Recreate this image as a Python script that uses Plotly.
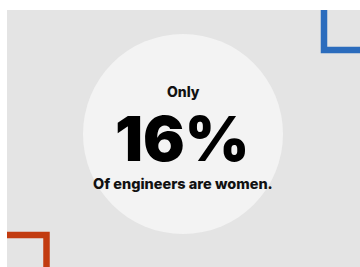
import plotly.graph_objects as go

# Data
headline_prefix = ["Only"]
stat_values = [16]
stat_labels = ["Of engineers are women."]

W, H = 360, 267
fig = go.Figure()

# Invisible scatter establishes the pixel-like axes
fig.add_trace(go.Scatter(x=[0, W], y=[0, H], mode="markers",
                         marker=dict(opacity=0), hoverinfo="skip", showlegend=False))

shapes = [
    # gray panel
    dict(type="rect", x0=7, x1=W, y0=10, y1=H, fillcolor="#e4e4e4", line=dict(width=0), layer="below"),
    # circle
    dict(type="circle", x0=83, x1=283, y0=34, y1=234, fillcolor="#f3f3f3", line=dict(width=0), layer="below"),
    # blue bracket
    dict(type="path", path="M 324 10 L 324 50 L 360 50", line=dict(color="#2b6cbd", width=6.5), layer="above"),
    # orange bracket
    dict(type="path", path="M 7 235 L 46.5 235 L 46.5 267", line=dict(color="#c23b10", width=6.5), layer="above"),
]

annotations = [
    dict(x=183, y=91, text=f"{headline_prefix[0]}", showarrow=False,
         font=dict(family="Inter", size=14, color="#111111", weight=800)),
    dict(x=182.5, y=138, text=f"{stat_values[0]}%", showarrow=False,
         font=dict(family="Inter", size=62, color="#000000", weight=900)),
    dict(x=182.5, y=183, text=f"{stat_labels[0]}", showarrow=False,
         font=dict(family="Inter", size=14.5, color="#111111", weight=800)),
]

fig.update_layout(
    width=W, height=H,
    margin=dict(l=0, r=0, t=0, b=0),
    paper_bgcolor="#ffffff", plot_bgcolor="#ffffff",
    xaxis=dict(range=[0, W], visible=False, fixedrange=True),
    yaxis=dict(range=[H, 0], visible=False, fixedrange=True),
    shapes=shapes, annotations=annotations, showlegend=False,
)

fig.write_html("out.html", config={"displayModeBar": False},
               post_script="document.body.style.margin='0';document.body.style.overflow='hidden';")
